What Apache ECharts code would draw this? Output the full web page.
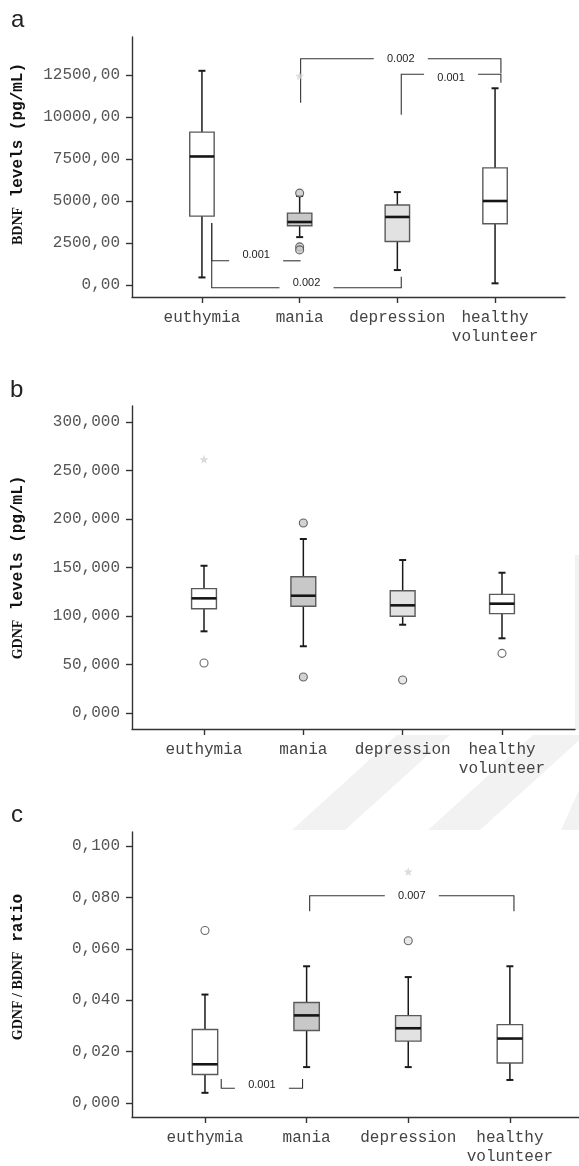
<!DOCTYPE html>
<html><head><meta charset="utf-8">
<script src="https://cdn.jsdelivr.net/npm/echarts@6/dist/echarts.min.js"></script>
<style>html,body{margin:0;padding:0;background:#fff}#c{width:579px;height:1166px}</style>
</head><body><div id="c"></div>
<script>
// ---------- data ----------
const categories = ['euthymia', 'mania', 'depression', 'healthy\nvolunteer'];
const categoryPositions = [0, 1, 2, 3];

// box: [lower whisker, Q1, median, Q3, upper whisker]
const bdnfBoxes = [
  [450, 4100, 7650, 9100, 12750],
  [2850, 3530, 3750, 4280, 5300],
  [890, 2590, 4050, 4760, 5530],
  [100, 3650, 5000, 6970, 11710]
];
const bdnfOutliers = [[1, 5470], [1, 2270], [1, 2090]];
const bdnfExtremes = [[1, 12450]];
const bdnfTicks = [0, 2500, 5000, 7500, 10000, 12500];
// [label, from, to, line level, leg end at from, leg end at to]
const bdnfBrackets = [
  ['0.002', 1.01, 3.06, 13466, 10841, 12600],
  ['0.001', 2.04, 3.06, 12541, 10130, 12044],
  ['0.001', 0.10, 1.01, 1440, 3692, null],
  ['0.002', 0.10, 2.04, -160, 3692, 492]
];

const gdnfBoxes = [
  [84.2, 107.5, 118.2, 128.2, 151.8],
  [68.8, 110.0, 120.9, 140.5, 179.4],
  [91.0, 99.7, 111.0, 126.1, 157.7],
  [77.0, 102.4, 112.7, 122.3, 144.6]
];
const gdnfOutliers = [[0, 51.5], [1, 195.9], [1, 37.1], [2, 34.0], [3, 61.5]];
const gdnfExtremes = [[0, 261.5]];
const gdnfTicks = [0, 50, 100, 150, 200, 250, 300];
const gdnfBrackets = [];

const ratioBoxes = [
  [0.0040, 0.0111, 0.0151, 0.0286, 0.0422],
  [0.0140, 0.0282, 0.0341, 0.0391, 0.0532],
  [0.0140, 0.0241, 0.0291, 0.0340, 0.0490],
  [0.0090, 0.0156, 0.0251, 0.0305, 0.0532]
];
const ratioOutliers = [[0, 0.0671], [2, 0.0631]];
const ratioExtremes = [[2, 0.0900]];
const ratioTicks = [0, 0.02, 0.04, 0.06, 0.08, 0.10];
const ratioBrackets = [
  ['0.007', 1.03, 3.04, 0.0806, 0.0746, 0.0746],
  ['0.001', 0.16, 0.96, 0.0058, 0.0094, 0.0094]
];

// ---------- styles / layout ----------
const MONO = "'Liberation Mono','Courier New',monospace";
const SANS = "'Liberation Sans',Arial,sans-serif";
const boxFills = ['#ffffff', '#c8c8c8', '#e2e2e2', '#ffffff'];
const BOX_W = 0.25;

const panels = [
  { boxes: bdnfBoxes, outliers: bdnfOutliers, extremes: bdnfExtremes, ticks: bdnfTicks, dec: 2,
    brackets: bdnfBrackets, textDy: [0, 4, -6, -5],
    grid: { left: 132, right: 14, top: 37, bottom: 869 },
    x: [-0.716, 3.716], y: [-714, 14762],
    name: '{g|BDNF}{m| levels (pg/mL)}', namePad: 26 },
  { boxes: gdnfBoxes, outliers: gdnfOutliers, extremes: gdnfExtremes, ticks: gdnfTicks, dec: 3,
    brackets: gdnfBrackets, textDy: [],
    grid: { left: 132, right: 4, top: 406, bottom: 437 },
    x: [-0.725, 3.735], y: [-16.5, 316.5],
    name: '{g|GDNF}{m| levels (pg/mL)}', namePad: 0 },
  { boxes: ratioBoxes, outliers: ratioOutliers, extremes: ratioExtremes, ticks: ratioTicks, dec: 3,
    brackets: ratioBrackets, textDy: [0, -3],
    grid: { left: 132, right: 0, top: 832, bottom: 47 },
    x: [-0.718, 3.68], y: [-0.0054, 0.1054],
    name: '{g|GDNF / BDNF}{m| ratio}', namePad: 15 }
];

const STAR = 'path://M0,-10L2.35,-3.24L9.51,-3.09L3.8,1.24L5.88,8.09L0,4L-5.88,8.09L-3.8,1.24L-9.51,-3.09L-2.35,-3.24Z';

const grids = [], xAxes = [], yAxes = [], series = [];
panels.forEach((p, i) => {
  grids.push(Object.assign({ containLabel: false }, p.grid));
  xAxes.push({
    type: 'value', gridIndex: i, min: p.x[0], max: p.x[1],
    axisLine: { show: true, onZero: false, lineStyle: { color: '#333', width: 1.4 } },
    axisTick: { show: true, length: 6, customValues: categoryPositions, lineStyle: { color: '#333', width: 1.4 } },
    axisLabel: { customValues: categoryPositions, formatter: v => categories[Math.round(v)],
      margin: 11, color: '#444', fontFamily: MONO, fontSize: 16, lineHeight: 19 },
    splitLine: { show: false }
  });
  yAxes.push({
    type: 'value', gridIndex: i, min: p.y[0], max: p.y[1],
    axisLine: { show: true, onZero: false, lineStyle: { color: '#333', width: 1.4 } },
    axisTick: { show: true, length: 6, customValues: p.ticks, lineStyle: { color: '#333', width: 1.4 } },
    axisLabel: { customValues: p.ticks, formatter: v => v.toFixed(p.dec).replace('.', ','),
      margin: 12, color: '#555', fontFamily: MONO, fontSize: 16 },
    splitLine: { show: false },
    name: p.name, nameLocation: 'middle', nameGap: 106,
    nameTextStyle: {
      padding: [0, 0, 0, p.namePad],
      rich: {
        g: { fontFamily: "'Liberation Serif','Times New Roman',serif", fontWeight: 'bold', fontSize: 14, color: '#111' },
        m: { fontFamily: MONO, fontWeight: 'bold', fontSize: 16, color: '#111' }
      }
    }
  });

  // boxes
  series.push({
    type: 'custom', xAxisIndex: i, yAxisIndex: i, z: 3,
    data: p.boxes.map((b, k) => [categoryPositions[k], b[0], b[1], b[2], b[3], b[4], k]),
    renderItem: (params, api) => {
      const x = api.value(0);
      const pLow = api.coord([x, api.value(1)]);
      const pQ1 = api.coord([x, api.value(2)]);
      const pMed = api.coord([x, api.value(3)]);
      const pQ3 = api.coord([x, api.value(4)]);
      const pHigh = api.coord([x, api.value(5)]);
      const hw = api.size([BOX_W, 0])[0] / 2;
      const cap = 3.5;
      const wl = { stroke: '#1a1a1a', lineWidth: 1.5 };
      const cx = pQ1[0];
      return { type: 'group', children: [
        { type: 'line', shape: { x1: cx, y1: pLow[1], x2: cx, y2: pQ1[1] }, style: wl },
        { type: 'line', shape: { x1: cx, y1: pQ3[1], x2: cx, y2: pHigh[1] }, style: wl },
        { type: 'line', shape: { x1: cx - cap, y1: pLow[1], x2: cx + cap, y2: pLow[1] }, style: { stroke: '#1a1a1a', lineWidth: 2 } },
        { type: 'line', shape: { x1: cx - cap, y1: pHigh[1], x2: cx + cap, y2: pHigh[1] }, style: { stroke: '#1a1a1a', lineWidth: 2 } },
        { type: 'rect', shape: { x: cx - hw, y: pQ3[1], width: 2 * hw, height: pQ1[1] - pQ3[1] },
          style: { fill: boxFills[api.value(6)], stroke: '#5a5a5a', lineWidth: 1.4 } },
        { type: 'line', shape: { x1: cx - hw, y1: pMed[1], x2: cx + hw, y2: pMed[1] }, style: { stroke: '#151515', lineWidth: 2.6 } }
      ] };
    }
  });
  // outliers
  series.push({
    type: 'scatter', xAxisIndex: i, yAxisIndex: i, z: 4, symbol: 'circle', symbolSize: 8,
    data: p.outliers.map(o => ({ value: [categoryPositions[o[0]], o[1]],
      itemStyle: { color: boxFills[o[0]], borderColor: '#444', borderWidth: 1.1 } })),
    silent: true
  });
  // extremes
  series.push({
    type: 'scatter', xAxisIndex: i, yAxisIndex: i, z: 4, symbol: STAR, symbolSize: 9,
    data: p.extremes.map(o => [categoryPositions[o[0]], o[1]]),
    itemStyle: { color: '#d2d2d2' }, silent: true
  });
  // significance brackets
  if (p.brackets.length) {
    series.push({
      type: 'custom', xAxisIndex: i, yAxisIndex: i, z: 2,
      data: p.brackets.map((b, k) => [b[1], b[2], b[3], k]),
      renderItem: (params, api) => {
        const b = p.brackets[params.dataIndex];
        const a = api.coord([b[1], b[3]]);
        const c = api.coord([b[2], b[3]]);
        const mid = (a[0] + c[0]) / 2;
        const gap = 27;
        const st = { stroke: '#333', lineWidth: 1.1, fill: null };
        const left = [];
        if (b[4] !== null) left.push(api.coord([b[1], b[4]]));
        left.push(a, [mid - gap, a[1]]);
        const right = [[mid + gap, c[1]], c];
        if (b[5] !== null) right.push(api.coord([b[2], b[5]]));
        return { type: 'group', children: [
          { type: 'polyline', shape: { points: left }, style: st },
          { type: 'polyline', shape: { points: right }, style: st },
          { type: 'text', style: { text: b[0], x: mid, y: a[1] + (p.textDy[params.dataIndex] || 0),
            align: 'center', verticalAlign: 'middle', font: '11px ' + SANS, fill: '#222' } }
        ] };
      }
    });
  }
});

const panelLetters = [['a', 11, 20], ['b', 10, 390], ['c', 11, 815]];
const graphic = [
  { type: 'polygon', z: -10, shape: { points: [[292, 830], [345, 830], [450, 735], [397, 735]] }, style: { fill: '#f2f2f2' } },
  { type: 'polygon', z: -10, shape: { points: [[428, 830], [480, 830], [585, 735], [533, 735]] }, style: { fill: '#f2f2f2' } },
  { type: 'polygon', z: -10, shape: { points: [[561, 830], [614, 830], [614, 790], [579, 790]] }, style: { fill: '#f2f2f2' } },
  { type: 'rect', z: -10, shape: { x: 575, y: 555, width: 4, height: 175 }, style: { fill: '#f2f2f2' } }
].concat(panelLetters.map(l => ({
  type: 'text', x: l[1], y: l[2],
  style: { text: l[0], font: '24px ' + SANS, fill: '#222', verticalAlign: 'middle' }
})));

const chart = echarts.init(document.getElementById('c'), null, { renderer: 'canvas' });
chart.setOption({
  animation: false,
  backgroundColor: '#fff',
  grid: grids, xAxis: xAxes, yAxis: yAxes, series: series, graphic: graphic
});
</script></body></html>
